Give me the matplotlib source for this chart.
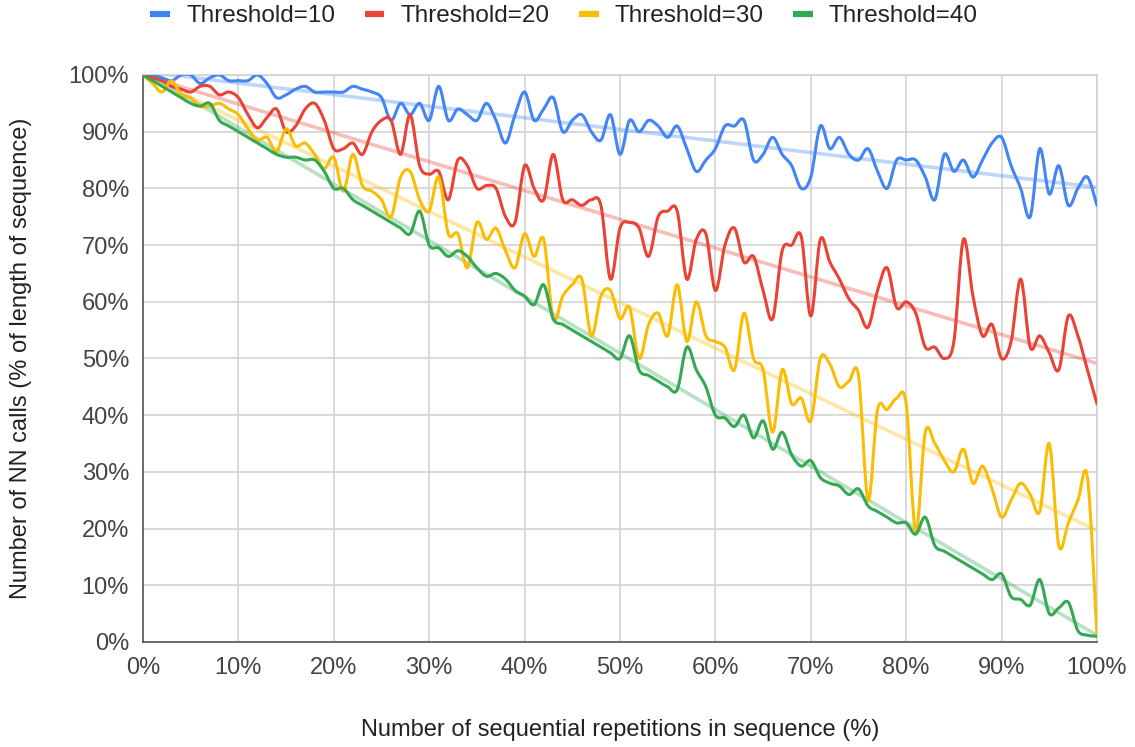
import numpy as np
import matplotlib.pyplot as plt
from matplotlib.path import Path
from matplotlib.patches import PathPatch
from matplotlib.lines import Line2D

plt.rcParams['font.family'] = ['Liberation Sans', 'DejaVu Sans']

# x: sequential repetitions (%), one point per percent
reps = list(range(0, 101))

thr10 = [100, 100, 99.5, 99, 100, 100, 98.5, 99.5, 100, 99, 99,
         99, 100, 98.5, 96, 96.5, 97.5, 98, 97, 97, 97,
         97, 98, 97.5, 97, 96, 92, 95, 93, 95, 92,
         98, 92, 94, 93, 92, 95, 92, 88, 93, 97,
         92, 94, 96, 90, 92, 93, 90, 88.5, 93, 86,
         92, 90, 92, 91, 89, 91, 87, 83, 85, 87,
         91, 91, 92, 85, 86, 89, 86, 84, 80, 82,
         91, 87, 89, 86, 85, 87, 83, 80, 85, 85,
         85, 82, 78, 86, 83, 85, 82, 85, 88, 89,
         84, 80, 75, 87, 79, 84, 77, 80, 82, 77]

thr20 = [100, 99.5, 99, 98, 97.5, 97, 98, 98, 96.5, 97, 96,
         93, 90.7, 92.5, 94, 90, 91, 94, 95, 92, 87,
         87, 88, 86, 90, 92, 92, 86, 93, 84, 82.5,
         83, 78, 85, 84, 80, 80.5, 80, 75, 74, 84,
         80, 78, 86, 78, 78, 77, 78, 77, 64, 73,
         74, 73, 68, 75, 76, 76, 64, 71, 72, 62,
         70, 73, 67, 68, 62, 57, 69, 70, 71.5, 57.5,
         71, 67, 64, 60.5, 58.5, 55.5, 62, 66, 59, 60,
         58, 52, 52, 50, 53, 71, 61, 54, 56, 50,
         53, 64, 52, 54, 51, 48, 57.5, 54, 48, 42]

thr30 = [100, 98.5, 97, 99, 96.5, 96, 94.5, 94.5, 95, 94, 93,
         90.5, 88.5, 89, 86.5, 90.5, 87.5, 88, 86, 83.5, 85.5,
         79.5, 86, 80.5, 79.5, 78, 75, 82, 83, 78, 76,
         82, 72, 72, 66, 74, 71, 73, 69, 66, 72,
         68, 71, 57, 61, 63, 64, 54, 61, 62, 57,
         59, 50, 56, 58, 54, 63, 53, 60, 54, 53,
         52, 48, 58, 50, 48, 37, 48, 42, 43, 39,
         50, 49, 45, 46, 47, 25, 41, 41, 43, 42,
         19.5, 37, 35, 32, 30, 34, 28, 31, 27, 22,
         25, 28, 26, 23, 35, 17, 21, 25, 29, 1]

thr40 = [100, 99, 98, 97, 96, 95, 94.5, 95, 92, 91, 90,
         89, 88, 87, 86, 85.5, 85.5, 85, 85, 83, 80,
         80, 78, 77, 76, 75, 74, 73, 72, 76, 70,
         69.5, 68, 69, 68, 66, 64.5, 65, 64, 62, 61,
         59.5, 63, 57, 56, 55, 54, 53, 52, 51, 50,
         54, 48, 47, 46, 45, 44.5, 52, 48, 45, 40,
         39.5, 38, 40, 36, 39, 34, 37, 33, 31, 32,
         29, 28, 27.5, 26, 27, 24, 23, 22, 21, 21,
         19, 22, 17, 16, 15, 14, 13, 12, 11, 12,
         8, 7.5, 6.5, 11, 5, 6, 7, 2, 1.2, 1]

labels = ['Threshold=10', 'Threshold=20', 'Threshold=30', 'Threshold=40']
colors = ['#4285F4', '#EA4335', '#FBBC04', '#34A853']
series = [thr10, thr20, thr30, thr40]


def smooth_path(x, y):
    # cubic bezier through every point, like a "function" curve
    pts = np.column_stack([np.asarray(x, float), np.asarray(y, float)])
    verts = [pts[0]]
    codes = [Path.MOVETO]
    n = len(pts)
    for i in range(n - 1):
        p0 = pts[max(i - 1, 0)]
        p1 = pts[i]
        p2 = pts[i + 1]
        p3 = pts[min(i + 2, n - 1)]
        verts += [p1 + (p2 - p0) / 6.0, p2 - (p3 - p1) / 6.0, p2]
        codes += [Path.CURVE4] * 3
    return Path(verts, codes)


fig = plt.figure(figsize=(11.35, 7.47), dpi=100)
ax = fig.add_axes([0.126, 0.1406, 0.8405, 0.759])

xs = np.array(reps, float)
for vals, col in zip(series, colors):
    k, b = np.polyfit(xs, vals, 1)
    ax.plot(xs, k * xs + b, color=col, lw=2.6, alpha=0.35, solid_capstyle='butt', zorder=2)

for vals, col in zip(series, colors):
    ax.add_patch(PathPatch(smooth_path(reps, vals), facecolor='none', edgecolor=col,
                           lw=2.2, zorder=3, capstyle='round', joinstyle='round'))

ax.set_xlim(0, 100)
ax.set_ylim(0, 100)
ticks = list(range(0, 101, 10))
ax.set_xticks(ticks)
ax.set_yticks(ticks)
ax.set_xticklabels([f'{t}%' for t in ticks], fontsize=17, color='#444444')
ax.set_yticklabels([f'{t}%' for t in ticks], fontsize=17, color='#444444')
ax.tick_params(axis='x', length=0, pad=11)
ax.tick_params(axis='y', length=0, pad=10)
ax.grid(True, color='#d0d0d0', lw=1.1)
ax.set_axisbelow(True)
for s in ['top', 'right']:
    ax.spines[s].set_color('#d0d0d0')
    ax.spines[s].set_linewidth(1.1)
for s in ['left', 'bottom']:
    ax.spines[s].set_color('#555555')
    ax.spines[s].set_linewidth(1.2)

fig.text(0.5465, 1 - 730 / 747, 'Number of sequential repetitions in sequence (%)',
         fontsize=17, color='#222222', ha='center', va='center')
fig.text(21 / 1135, 0.52, 'Number of NN calls (% of length of sequence)',
         fontsize=17, color='#222222', ha='center', va='center', rotation=90)

handles = [Line2D([0], [0], color=c, lw=4.5, solid_capstyle='butt') for c in colors]
fig.legend(handles, labels, loc='center', bbox_to_anchor=(0.497, 1 - 16 / 747), ncol=4,
           frameon=False, fontsize=17.5, handlelength=0.82, columnspacing=1.2,
           handletextpad=0.66, labelcolor='#222222', borderpad=0, borderaxespad=0)

fig.savefig('out.png', dpi=100)
